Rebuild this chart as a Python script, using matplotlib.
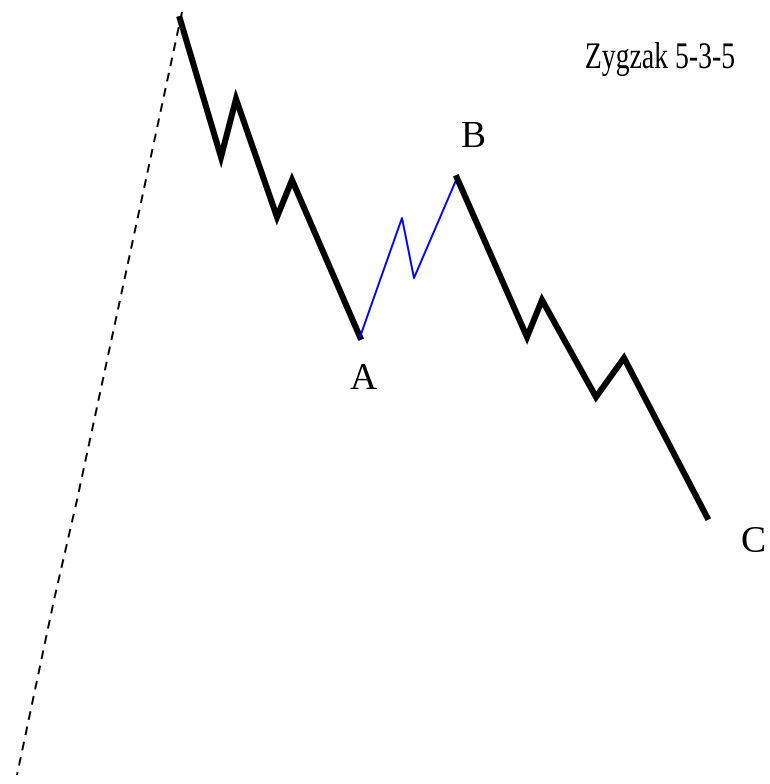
import matplotlib
matplotlib.use('Agg')
import matplotlib.pyplot as plt
from matplotlib.patheffects import AbstractPathEffect
from matplotlib.transforms import Affine2D

# Wave points (pixel-like coordinates, y down)
lead_x = [182, 120, 77, 54, 17]
lead_y = [12, 300, 500, 600, 775]

wave_a_x = [180, 221, 236, 277, 292, 360]
wave_a_y = [19, 157, 99, 217, 180, 337]

wave_b_x = [360, 402, 414, 457]
wave_b_y = [337, 218, 278, 178]

wave_c_x = [457, 527, 542, 596, 624, 707]
wave_c_y = [178, 337, 300, 397, 358, 517]

labels = ['A', 'B', 'C']
label_x = [363, 473, 753]
label_y = [389, 147, 552]

title = 'Zygzak 5-3-5'


class Squeeze(AbstractPathEffect):
    """Narrow the text horizontally around a centre (display px)."""
    def __init__(self, cx, sx):
        super().__init__()
        self.cx = cx
        self.sx = sx

    def draw_path(self, renderer, gc, tpath, affine, rgbFace=None):
        t = Affine2D().translate(-self.cx, 0).scale(self.sx, 1).translate(self.cx, 0)
        renderer.draw_path(gc, tpath, affine + t, rgbFace)


fig = plt.figure(figsize=(7.7, 7.84), dpi=100)
ax = fig.add_axes([0, 0, 1, 1])
ax.set_xlim(0, 770)
ax.set_ylim(784, 0)
ax.axis('off')

ax.plot(lead_x, lead_y, color='black', lw=1.4, dashes=(4.5, 3.5))
ax.plot(wave_a_x, wave_a_y, color='black', lw=4.4, solid_joinstyle='miter')
ax.plot(wave_b_x, wave_b_y, color='blue', lw=1.4)
ax.plot(wave_c_x, wave_c_y, color='black', lw=4.4, solid_joinstyle='miter')

for lab, x, y in zip(labels, label_x, label_y):
    ax.text(x, y, lab, fontsize=27, family='Liberation Serif',
            ha='center', va='baseline')

ax.text(660, 68, title, fontsize=27, family='Liberation Serif',
        ha='center', va='baseline',
        path_effects=[Squeeze(660, 0.74)])

fig.savefig('out.png', dpi=100)
